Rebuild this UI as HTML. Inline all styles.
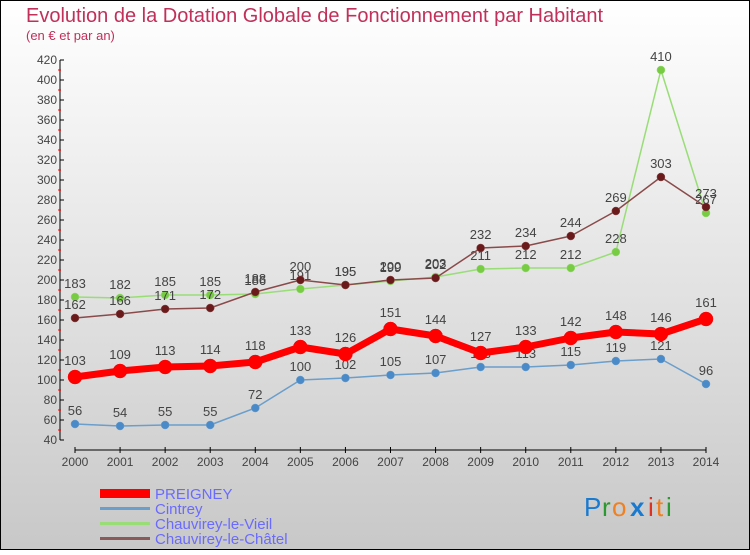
<!DOCTYPE html>
<html><head><meta charset="utf-8"><style>
body{margin:0}
#c{width:750px;height:550px;position:relative;font-family:"Liberation Sans",sans-serif}
</style></head><body>
<div id="c">
<svg id="s" width="750" height="550" xmlns="http://www.w3.org/2000/svg" font-family="Liberation Sans, sans-serif">
<defs><linearGradient id="bg" x1="0" y1="0" x2="0" y2="1"><stop offset="0" stop-color="#ffffff"/><stop offset="1" stop-color="#c8c8c8"/></linearGradient></defs>
<rect x="0.5" y="0.5" width="749" height="549" fill="url(#bg)" stroke="#000"/>
<text x="26" y="22" font-size="20" fill="#c0305a">Evolution de la Dotation Globale de Fonctionnement par Habitant</text>
<text x="26" y="40" font-size="13" fill="#c0305a">(en € et par an)</text>
<g id="axes"></g><g id="series"></g>
<g>
<rect x="100" y="489" width="50" height="9" fill="#f00"/>
<text x="155" y="499" font-size="15" fill="#6a6aff">PREIGNEY</text>
<rect x="100" y="507" width="50" height="3" fill="#6a9ecb"/>
<text x="155" y="514" font-size="15" fill="#6a6aff">Cintrey</text>
<rect x="100" y="522" width="50" height="3" fill="#99dd77"/>
<text x="155" y="529" font-size="15" fill="#6a6aff">Chauvirey-le-Vieil</text>
<rect x="100" y="537" width="50" height="3" fill="#8a5a5a"/>
<text x="155" y="544" font-size="15" fill="#6a6aff">Chauvirey-le-Châtel</text>
</g>
<g font-size="26">
<text x="584" y="516" fill="#1a7ad0">P</text><text x="602" y="516" fill="#2a9a30">r</text><text x="612" y="516" fill="#f08020">o</text><text x="630" y="516" fill="#1a7ad0" font-weight="bold">x</text><text x="648" y="516" fill="#e03020">i</text><text x="656" y="516" fill="#f08020">t</text><text x="666" y="516" fill="#2a9a30">i</text>
</g>
</svg></div>
<script>
const years=[2000,2001,2002,2003,2004,2005,2006,2007,2008,2009,2010,2011,2012,2013,2014];
const preigney=[103,109,113,114,118,133,126,151,144,127,133,142,148,146,161];
const cintrey=[56,54,55,55,72,100,102,105,107,113,113,115,119,121,96];
const vieil=[183,182,185,185,186,191,195,199,203,211,212,212,228,410,267];
const chatel=[162,166,171,172,188,200,195,200,202,232,234,244,269,303,273];
const yTicks=[40,60,80,100,120,140,160,180,200,220,240,260,280,300,320,340,360,380,400,420];
const NS="http://www.w3.org/2000/svg";
const xs=i=>75+i*(706-75)/(years.length-1);
const ys=v=>440-(v-40);
function mk(t,a,p){const e=document.createElementNS(NS,t);for(const k in a)e.setAttribute(k,a[k]);p.appendChild(e);return e;}
const ax=document.getElementById('axes');
let e=mk('line',{x1:60,y1:ys(420),x2:60,y2:ys(40),stroke:'#000','stroke-width':1},ax);


e=mk('line',{x1:75,y1:450,x2:706,y2:450,stroke:'#000','stroke-width':1},ax);


yTicks.forEach(v=>{
 mk('line',{x1:60,y1:ys(v),x2:64,y2:ys(v),stroke:'#000'},ax);
 if(v<420)mk('line',{x1:58,y1:ys(v+10),x2:61,y2:ys(v+10),stroke:'#f00'},ax);
 const t=mk('text',{x:57,y:ys(v)+4,'font-size':12,'text-anchor':'end',fill:'#444'},ax);
 t.textContent=v;
 
 
});
years.forEach((y,i)=>{
 mk('line',{x1:xs(i),y1:447,x2:xs(i),y2:453,stroke:'#000'},ax);
 const t=mk('text',{x:xs(i),y:466,'font-size':12,'text-anchor':'middle',fill:'#444'},ax);
 t.textContent=y;
 
 
});
const sg=document.getElementById('series');
function draw(name,data,color,w,r,dot,dy){
 const g=mk('g',{},sg);
 
 
 const p=mk('polyline',{points:data.map((v,i)=>xs(i)+','+ys(v)).join(' '),fill:'none',stroke:color,'stroke-width':w,'stroke-linejoin':'round'},g);
 
 
 data.forEach((v,i)=>{
  const c=mk('circle',{cx:xs(i),cy:ys(v),r:r,fill:dot,stroke:color,'stroke-width':0.5},g);
  
  
  const t=mk('text',{x:xs(i),y:ys(v)+dy,'font-size':13,'text-anchor':'middle',fill:'#444'},g);
  t.textContent=v;
  
  
 });
}
draw('vieil',vieil,'#99dd77',1.5,4,'#77cc44',-9);
draw('chatel',chatel,'#8a4a4a',1.5,4,'#6a1a1a',-9);
draw('cintrey',cintrey,'#6a9ecb',1.5,4,'#4a8ac8',-9);
draw('preigney',preigney,'#f00',7,7,'#f00',-12);
</script>
</body></html>
